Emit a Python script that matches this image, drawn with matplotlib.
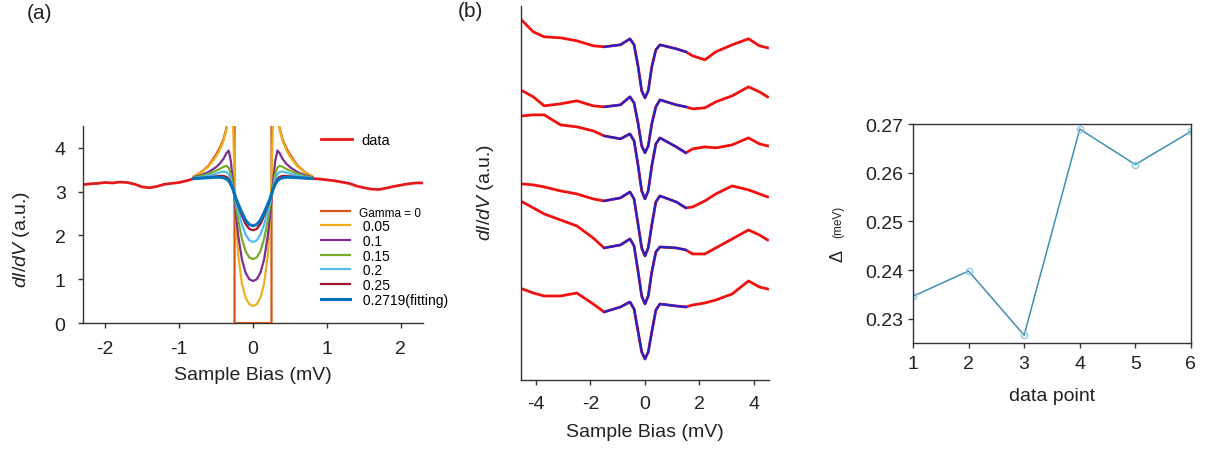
import numpy as np
import matplotlib
matplotlib.use("Agg")
import matplotlib.pyplot as plt
from matplotlib.lines import Line2D

plt.rcParams['font.family'] = ['Liberation Sans', 'DejaVu Sans']
plt.rcParams['mathtext.fontset'] = 'custom'
plt.rcParams['mathtext.it'] = 'Liberation Sans:italic'
plt.rcParams['mathtext.rm'] = 'Liberation Sans'
plt.rcParams['axes.unicode_minus'] = False

# ---------------- panel (a): data + Dynes curves ----------------
# measured trace outside the gap region (NaN breaks the line)
a_data_x = [-2.3, -2.2, -2.1, -2.0, -1.9, -1.8, -1.7, -1.6, -1.5, -1.4, -1.3, -1.2, -1.1, -1.0, -0.9, -0.8,
            np.nan,
            0.8, 0.9, 1.0, 1.1, 1.2, 1.3, 1.4, 1.5, 1.6, 1.7, 1.8, 1.9, 2.0, 2.1, 2.2, 2.3]
a_data_y = [3.16, 3.18, 3.19, 3.21, 3.20, 3.22, 3.21, 3.17, 3.11, 3.09, 3.12, 3.17, 3.19, 3.21, 3.25, 3.30,
            np.nan,
            3.30, 3.29, 3.27, 3.25, 3.22, 3.19, 3.13, 3.09, 3.06, 3.05, 3.08, 3.12, 3.15, 3.18, 3.20, 3.20]

# half curves (|bias| >= 0), mirrored for negative bias
gap_x = [0, 0.05, 0.1, 0.15, 0.2, 0.23, 0.25, 0.27, 0.3, 0.33, 0.36, 0.4, 0.45, 0.5, 0.6, 0.7, 0.8]
curve_g005 = [0.39, 0.43, 0.58, 0.90, 1.55, 2.30, 3.20, 4.60, 5.50, 4.75, 4.42, 4.15, 3.95, 3.80, 3.58, 3.44, 3.35]
curve_g010 = [0.96, 1.00, 1.15, 1.45, 2.00, 2.45, 2.80, 3.20, 3.70, 3.94, 3.88, 3.75, 3.64, 3.56, 3.45, 3.38, 3.33]
curve_g015 = [1.46, 1.50, 1.64, 1.92, 2.35, 2.66, 2.88, 3.10, 3.40, 3.55, 3.59, 3.57, 3.52, 3.48, 3.41, 3.36, 3.32]
curve_g020 = [1.85, 1.89, 2.02, 2.25, 2.56, 2.77, 2.92, 3.08, 3.28, 3.40, 3.45, 3.46, 3.44, 3.41, 3.37, 3.33, 3.31]
curve_g025 = [2.12, 2.15, 2.26, 2.45, 2.68, 2.82, 2.94, 3.06, 3.20, 3.29, 3.34, 3.36, 3.36, 3.35, 3.33, 3.31, 3.30]
curve_fit = [2.22, 2.25, 2.35, 2.52, 2.72, 2.84, 2.95, 3.05, 3.17, 3.25, 3.29, 3.32, 3.33, 3.33, 3.32, 3.31, 3.30]
g0_x = [0, 0.2499, 0.25, 0.3, 0.33, 0.36, 0.4, 0.45, 0.5, 0.6, 0.7, 0.8]
curve_g0 = [0, 0, 9.0, 5.2, 4.75, 4.45, 4.2, 4.0, 3.85, 3.6, 3.45, 3.35]

gamma_labels = ['Gamma = 0', ' 0.05', ' 0.1', ' 0.15', ' 0.2', ' 0.25', ' 0.2719(fitting)']
gamma_colors = ['#D95319', '#EDB120', '#7E2F8E', '#77AC30', '#4DBEEE', '#A2142F', '#0072BD']

# ---------------- panel (b): stacked spectra ----------------
b_x = [-4.5, -4.1, -3.7, -3.1, -2.5, -1.9, -1.5, -0.9, -0.55, -0.4, -0.25, -0.12, 0, 0.12, 0.25, 0.4, 0.55,
       1.15, 1.5, 1.75, 2.2, 2.6, 3.2, 3.8, 4.2, 4.5]
spec1 = [35.9, 34.8, 34.3, 34.2, 33.9, 33.4, 33.3, 33.5, 34.1, 33.5, 31.3, 28.9, 28.2, 28.9, 31.3, 33.0, 33.5,
         33.1, 32.8, 32.4, 32.0, 32.8, 33.5, 34.1, 33.4, 33.2]
spec2 = [28.9, 28.3, 27.4, 27.6, 27.9, 27.4, 27.3, 27.5, 28.3, 27.7, 25.6, 23.4, 22.7, 23.4, 25.6, 27.3, 28.0,
         27.5, 27.3, 27.1, 27.2, 27.8, 28.4, 29.3, 28.8, 28.3]
spec3 = [26.4, 26.5, 26.5, 25.5, 25.3, 24.9, 24.4, 24.1, 24.6, 23.9, 21.4, 18.9, 18.1, 18.9, 21.4, 23.6, 24.2,
         23.3, 22.7, 23.1, 23.3, 23.2, 23.5, 24.2, 23.6, 23.4]
spec4 = [19.6, 19.5, 19.3, 18.9, 18.6, 18.1, 17.9, 18.2, 18.8, 18.1, 15.5, 13.2, 12.4, 13.2, 15.5, 17.8, 18.4,
         17.8, 17.2, 17.3, 17.9, 18.6, 19.4, 19.0, 18.6, 18.3]
spec5 = [17.8, 17.2, 16.6, 16.0, 15.4, 14.2, 13.2, 13.5, 14.1, 13.4, 10.8, 8.4, 7.6, 8.4, 10.8, 12.8, 13.3,
         13.2, 13.0, 12.6, 12.6, 13.2, 14.1, 15.0, 14.5, 14.0]
spec6 = [9.1, 8.7, 8.4, 8.4, 8.7, 7.6, 6.8, 7.3, 7.8, 7.1, 4.8, 2.8, 2.1, 2.8, 4.8, 7.0, 7.6,
         7.4, 7.3, 7.5, 7.7, 8.0, 8.6, 9.9, 9.3, 9.1]
spectra = [spec1, spec2, spec3, spec4, spec5, spec6]
fit_lo, fit_hi = 6, 19   # fit covers -1.5 .. 1.5 mV

# ---------------- panel (c): gap values ----------------
point_idx = [1, 2, 3, 4, 5, 6]
delta_mev = [0.2346, 0.2398, 0.2266, 0.2690, 0.2617, 0.2685]

fig = plt.figure(figsize=(12.06, 4.52), dpi=100)
ax_a = fig.add_axes([0.0688, 0.283, 0.282, 0.436])
ax_b = fig.add_axes([0.432, 0.157, 0.2056, 0.828])
ax_c = fig.add_axes([0.757, 0.239, 0.2305, 0.484])

spine_col = '#333333'
txt_col = '#222222'

# ---- (a)
ax_a.plot(a_data_x, a_data_y, color='#E31A1C', lw=2.0, zorder=2)
gx = np.array(gap_x)
g0 = np.array(g0_x)
ax_a.plot(np.concatenate([-g0[::-1], g0]), np.concatenate([curve_g0[::-1], curve_g0]),
          color=gamma_colors[0], lw=1.6, zorder=3)
for vals, col in zip([curve_g005, curve_g010, curve_g015, curve_g020, curve_g025],
                     gamma_colors[1:6]):
    ax_a.plot(np.concatenate([-gx[::-1], gx]), np.concatenate([vals[::-1], vals]),
              color=col, lw=1.6, zorder=3)
ax_a.plot(np.concatenate([-gx[::-1], gx]), np.concatenate([curve_fit[::-1], curve_fit]),
          color=gamma_colors[6], lw=2.2, zorder=4)

ax_a.set_xlim(-2.3, 2.3)
ax_a.set_ylim(0, 4.5)
ax_a.set_xticks([-2, -1, 0, 1, 2])
ax_a.set_yticks([0, 1, 2, 3, 4])
ax_a.set_xlabel('Sample Bias (mV)', fontsize=14, color=txt_col, labelpad=6)
ax_a.set_ylabel(r'$dI/dV$ (a.u.)', fontsize=14, color=txt_col)
ax_a.yaxis.set_label_coords(-0.15, 0.43)

leg1 = ax_a.legend([Line2D([], [], color='#E31A1C', lw=2.0)], ['data'],
                   loc='upper left', bbox_to_anchor=(0.70, 0.965), frameon=False,
                   fontsize=10.5, borderpad=0, borderaxespad=0, handlelength=2.1,
                   handletextpad=0.7)
ax_a.add_artist(leg1)
handles = [Line2D([], [], color=c, lw=(2.2 if i == 6 else 1.6)) for i, c in enumerate(gamma_colors)]
leg2 = ax_a.legend(handles, gamma_labels, loc='upper left', bbox_to_anchor=(0.70, 0.595),
                   frameon=False, fontsize=10, borderpad=0, borderaxespad=0,
                   handlelength=2.1, handletextpad=0.6, labelspacing=0.05)
leg2.get_texts()[0].set_fontsize(8.5)

# ---- (b)
for s in spectra:
    ax_b.plot(b_x, s, color='#F01010', lw=2.0, zorder=2)
    ax_b.plot(b_x[fit_lo:fit_hi], s[fit_lo:fit_hi], color='#2222CC', lw=1.6, zorder=3)
ax_b.set_xlim(-4.55, 4.55)
ax_b.set_ylim(0, 37.4)
ax_b.set_xticks([-4, -2, 0, 2, 4])
ax_b.set_yticks([])
ax_b.set_xlabel('Sample Bias (mV)', fontsize=14, color=txt_col, labelpad=8)
ax_b.set_ylabel(r'$dI/dV$ (a.u.)', fontsize=14, color=txt_col)
ax_b.yaxis.set_label_coords(-0.10, 0.505)

for ax in (ax_a, ax_b):
    ax.spines['top'].set_visible(False)
    ax.spines['right'].set_visible(False)

# ---- (c)
ax_c.plot(point_idx, delta_mev, color='#3F8FB5', lw=1.1, marker='o', ms=4.5,
          mfc='none', mec='#8CC6E0', mew=1.0)
ax_c.set_xlim(1, 6)
ax_c.set_ylim(0.225, 0.27)
ax_c.set_xticks(point_idx)
ax_c.set_yticks([0.23, 0.24, 0.25, 0.26, 0.27])
ax_c.set_xlabel('data point', fontsize=14, color=txt_col, labelpad=11)
ax_c.text(-0.27, 0.40, 'Δ', transform=ax_c.transAxes, rotation=90, ha='center', va='center',
          fontsize=13, color=txt_col)
ax_c.text(-0.268, 0.56, '(meV)', transform=ax_c.transAxes, rotation=90, ha='center', va='center',
          fontsize=8.5, color=txt_col)

for ax in (ax_a, ax_b, ax_c):
    for sp in ax.spines.values():
        sp.set_color(spine_col)
        sp.set_linewidth(1.0)
    ax.tick_params(labelsize=14, colors=spine_col, labelcolor=txt_col, length=3.5, width=1.0)
ax_a.tick_params(axis='both', pad=9)
ax_b.tick_params(axis='x', pad=7)
ax_c.tick_params(axis='x', pad=5)

fig.text(0.033, 0.97, '(a)', fontsize=15, ha='center', va='center', color=txt_col)
fig.text(0.39, 0.975, '(b)', fontsize=15, ha='center', va='center', color=txt_col)

fig.savefig('out.png', dpi=100)
